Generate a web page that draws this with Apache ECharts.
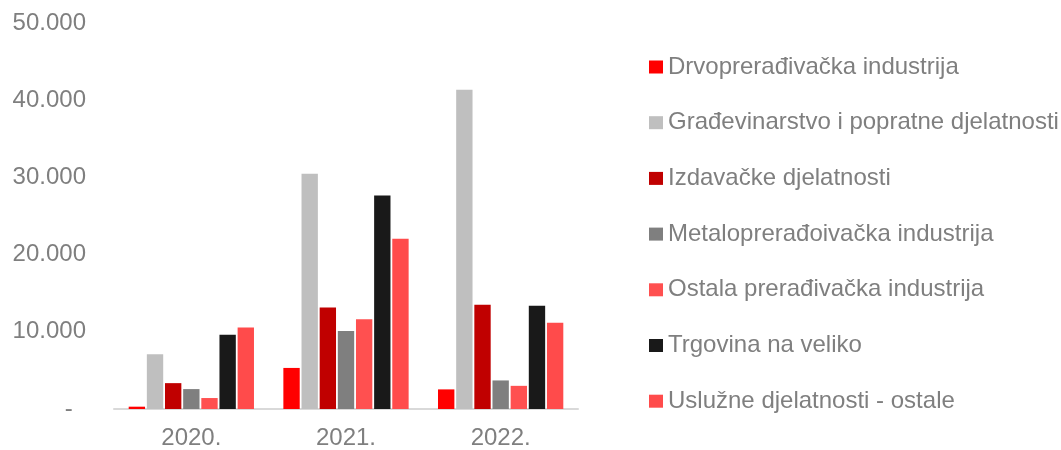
<!DOCTYPE html>
<html>
<head>
<meta charset="utf-8">
<style>
  html, body { margin: 0; padding: 0; background: #fff; }
  #chart { width: 1061px; height: 450px; }
</style>
<script src="https://cdn.jsdelivr.net/npm/echarts@6/dist/echarts.min.js"></script>
</head>
<body>
<div id="chart"></div>
<script>
var years = ['2020.', '2021.', '2022.'];
var seriesNames = [
    'Drvoprerađivačka industrija',
    'Građevinarstvo i popratne djelatnosti',
    'Izdavačke djelatnosti',
    'Metaloprerađoivačka industrija',
    'Ostala prerađivačka industrija',
    'Trgovina na veliko',
    'Uslužne djelatnosti - ostale'
];
var seriesColors = ['#ff0000', '#bfbfbf', '#c00000', '#7f7f7f', '#ff5050', '#191919', '#ff4b4b'];

var drvo = [300, 5320, 2540];
var gradjevinarstvo = [7090, 30460, 41340];
var izdavacke = [3350, 13150, 13500];
var metalo = [2580, 10090, 3700];
var ostala = [1420, 11640, 3000];
var trgovina = [9630, 27670, 13370];
var usluzne = [10570, 22040, 11180];
var seriesData = [drvo, gradjevinarstvo, izdavacke, metalo, ostala, trgovina, usluzne];

var yTicks = [0, 10000, 20000, 30000, 40000, 50000];

(function() {
    var chart = echarts.init(document.getElementById('chart'), null, { renderer: 'canvas' });
    var font = '"Liberation Sans", Arial, sans-serif';
    var textGray = '#7f7f7f';

    function fmt(v) {
        if (v === 0) return '-  ';
        return String(v).replace(/\B(?=(\d{3})+(?!\d))/g, '.');
    }

    var series = seriesNames.map(function(name, i) {
        return {
            name: name,
            type: 'bar',
            data: seriesData[i],
            barGap: '11%',
            barCategoryGap: '19%',
            itemStyle: { color: seriesColors[i] },
            animation: false
        };
    });

    chart.setOption({
        textStyle: { fontFamily: font },
        legend: {
            orient: 'vertical',
            left: 644,
            top: 50,
            itemWidth: 14,
            itemHeight: 13,
            itemGap: 31.7,
            icon: 'rect',
            data: seriesNames,
            textStyle: { color: textGray, fontSize: 24, lineHeight: 24, fontFamily: font }
        },
        grid: { left: 114, right: 483, top: 23, bottom: 39 },
        xAxis: {
            type: 'category',
            data: years,
            axisLine: { lineStyle: { color: '#d9d9d9', width: 2 } },
            axisTick: { show: false },
            axisLabel: { color: textGray, fontSize: 24, margin: 17, fontFamily: font }
        },
        yAxis: {
            type: 'value',
            min: yTicks[0],
            max: yTicks[yTicks.length - 1],
            interval: 10000,
            axisLine: { show: false },
            axisTick: { show: false },
            splitLine: { show: false },
            axisLabel: { color: textGray, fontSize: 24, margin: 28, fontFamily: font, formatter: fmt }
        },
        series: series
    });
})();
</script>
</body>
</html>
